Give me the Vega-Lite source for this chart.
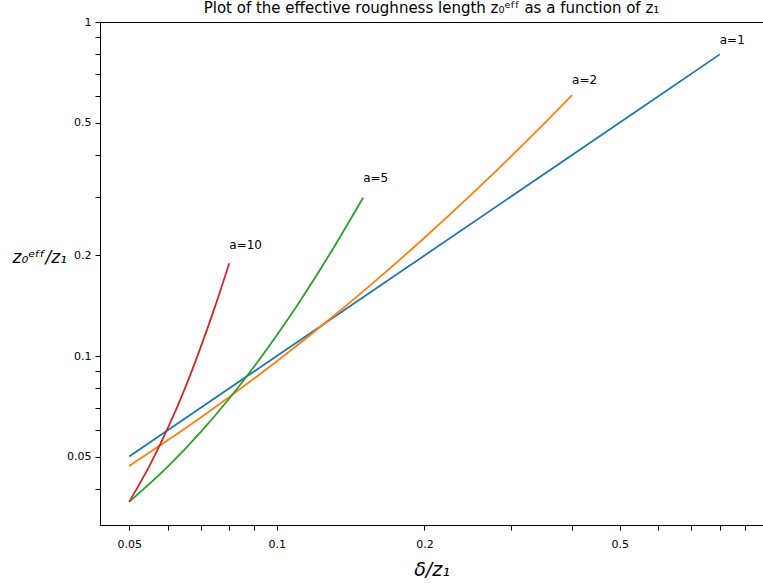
{
  "$schema": "https://vega.github.io/schema/vega-lite/v6.json",
  "width": 663,
  "height": 503,
  "autosize": {"type": "none"},
  "padding": {"left": 100, "top": 22, "right": 0, "bottom": 58},
  "background": "white",
  "config": {"view": {"stroke": "black", "strokeWidth": 1}, "font": "DejaVu Sans"},
  "title": {"text": "Plot of the effective roughness length z₀ᵉᶠᶠ as a function of z₁", "fontSize": 15, "fontWeight": "normal", "font": "DejaVu Sans", "color": "black", "anchor": "middle", "frame": "group", "baseline": "alphabetic", "offset": 7, "dy": 19},
  "layer": [
    {
      "data": {"values": [
        {"series": "a=1", "x": 0.05, "y": 0.05},
        {"series": "a=1", "x": 0.1, "y": 0.1},
        {"series": "a=1", "x": 0.2, "y": 0.2},
        {"series": "a=1", "x": 0.4, "y": 0.4},
        {"series": "a=1", "x": 0.8, "y": 0.8},
        {"series": "a=2", "x": 0.05, "y": 0.04685},
        {"series": "a=2", "x": 0.07, "y": 0.06544},
        {"series": "a=2", "x": 0.1, "y": 0.09641},
        {"series": "a=2", "x": 0.13, "y": 0.1311},
        {"series": "a=2", "x": 0.16, "y": 0.1694},
        {"series": "a=2", "x": 0.2, "y": 0.226},
        {"series": "a=2", "x": 0.25, "y": 0.3057},
        {"series": "a=2", "x": 0.3, "y": 0.3953},
        {"series": "a=2", "x": 0.35, "y": 0.4945},
        {"series": "a=2", "x": 0.4, "y": 0.6036},
        {"series": "a=5", "x": 0.05, "y": 0.0366},
        {"series": "a=5", "x": 0.06, "y": 0.04672},
        {"series": "a=5", "x": 0.07, "y": 0.0593},
        {"series": "a=5", "x": 0.08, "y": 0.0746},
        {"series": "a=5", "x": 0.09, "y": 0.0932},
        {"series": "a=5", "x": 0.1, "y": 0.1154},
        {"series": "a=5", "x": 0.11, "y": 0.1417},
        {"series": "a=5", "x": 0.12, "y": 0.1727},
        {"series": "a=5", "x": 0.13, "y": 0.2089},
        {"series": "a=5", "x": 0.14, "y": 0.2507},
        {"series": "a=5", "x": 0.15, "y": 0.298},
        {"series": "a=10", "x": 0.05, "y": 0.0366},
        {"series": "a=10", "x": 0.055, "y": 0.0469},
        {"series": "a=10", "x": 0.06, "y": 0.061},
        {"series": "a=10", "x": 0.065, "y": 0.0802},
        {"series": "a=10", "x": 0.07, "y": 0.1065},
        {"series": "a=10", "x": 0.075, "y": 0.142},
        {"series": "a=10", "x": 0.08, "y": 0.1895}
      ]},
      "mark": {"type": "line", "strokeWidth": 1.8, "interpolate": "monotone", "clip": true},
      "encoding": {
        "x": {
          "field": "x", "type": "quantitative",
          "scale": {"type": "log", "domain": [0.0436, 0.98], "nice": false},
          "axis": {
            "values": [0.05, 0.06, 0.07, 0.08, 0.09, 0.1, 0.2, 0.3, 0.4, 0.5, 0.6, 0.7, 0.8, 0.9],
            "format": "~g",
            "labelExpr": "(datum.value == 0.05 || datum.value == 0.1 || datum.value == 0.2 || datum.value == 0.5) ? datum.label : ''",
            "labelOverlap": false, "labelFlush": false, "grid": false,
            "tickSize": 5, "tickColor": "black", "domainColor": "black",
            "labelColor": "black", "labelFontSize": 11, "labelFont": "DejaVu Sans", "labelPadding": 8,
            "title": "δ/z₁", "titleFontSize": 19, "titleFontWeight": "normal", "titleFontStyle": "italic",
            "titleColor": "black", "titleFont": "DejaVu Sans", "titleY": 50, "titleBaseline": "alphabetic"
          }
        },
        "y": {
          "field": "y", "type": "quantitative",
          "scale": {"type": "log", "domain": [0.0312, 1.0], "nice": false},
          "axis": {
            "values": [0.04, 0.05, 0.06, 0.07, 0.08, 0.09, 0.1, 0.2, 0.3, 0.4, 0.5, 0.6, 0.7, 0.8, 0.9, 1],
            "format": "~g",
            "labelExpr": "(datum.value == 0.05 || datum.value == 0.1 || datum.value == 0.2 || datum.value == 0.5 || datum.value == 1) ? datum.label : ''",
            "labelOverlap": false, "labelFlush": false, "grid": false,
            "tickSize": 5, "tickColor": "black", "domainColor": "black",
            "labelColor": "black", "labelFontSize": 11, "labelFont": "DejaVu Sans", "labelPadding": 4,
            "title": "z₀ᵉᶠᶠ/z₁", "titleFontSize": 17, "titleFontWeight": "normal", "titleFontStyle": "italic",
            "titleColor": "black", "titleFont": "DejaVu Sans", "titleAngle": 0, "titleAlign": "left",
            "titleBaseline": "alphabetic", "titleX": -88, "titleY": 240
          }
        },
        "color": {
          "field": "series", "type": "nominal",
          "scale": {"domain": ["a=1", "a=2", "a=5", "a=10"], "range": ["#1f77b4", "#ff7f0e", "#2ca02c", "#d62728"]},
          "legend": null
        }
      }
    },
    {
      "data": {"values": [
        {"series": "a=1", "x": 0.8, "y": 0.857, "label": "a=1"},
        {"series": "a=2", "x": 0.4, "y": 0.651, "label": "a=2"},
        {"series": "a=5", "x": 0.15, "y": 0.331, "label": "a=5"},
        {"series": "a=10", "x": 0.08, "y": 0.209, "label": "a=10"}
      ]},
      "mark": {"type": "text", "align": "left", "baseline": "alphabetic", "fontSize": 12, "font": "DejaVu Sans", "color": "black"},
      "encoding": {
        "x": {"field": "x", "type": "quantitative"},
        "y": {"field": "y", "type": "quantitative"},
        "text": {"field": "label"}
      }
    }
  ]
}
